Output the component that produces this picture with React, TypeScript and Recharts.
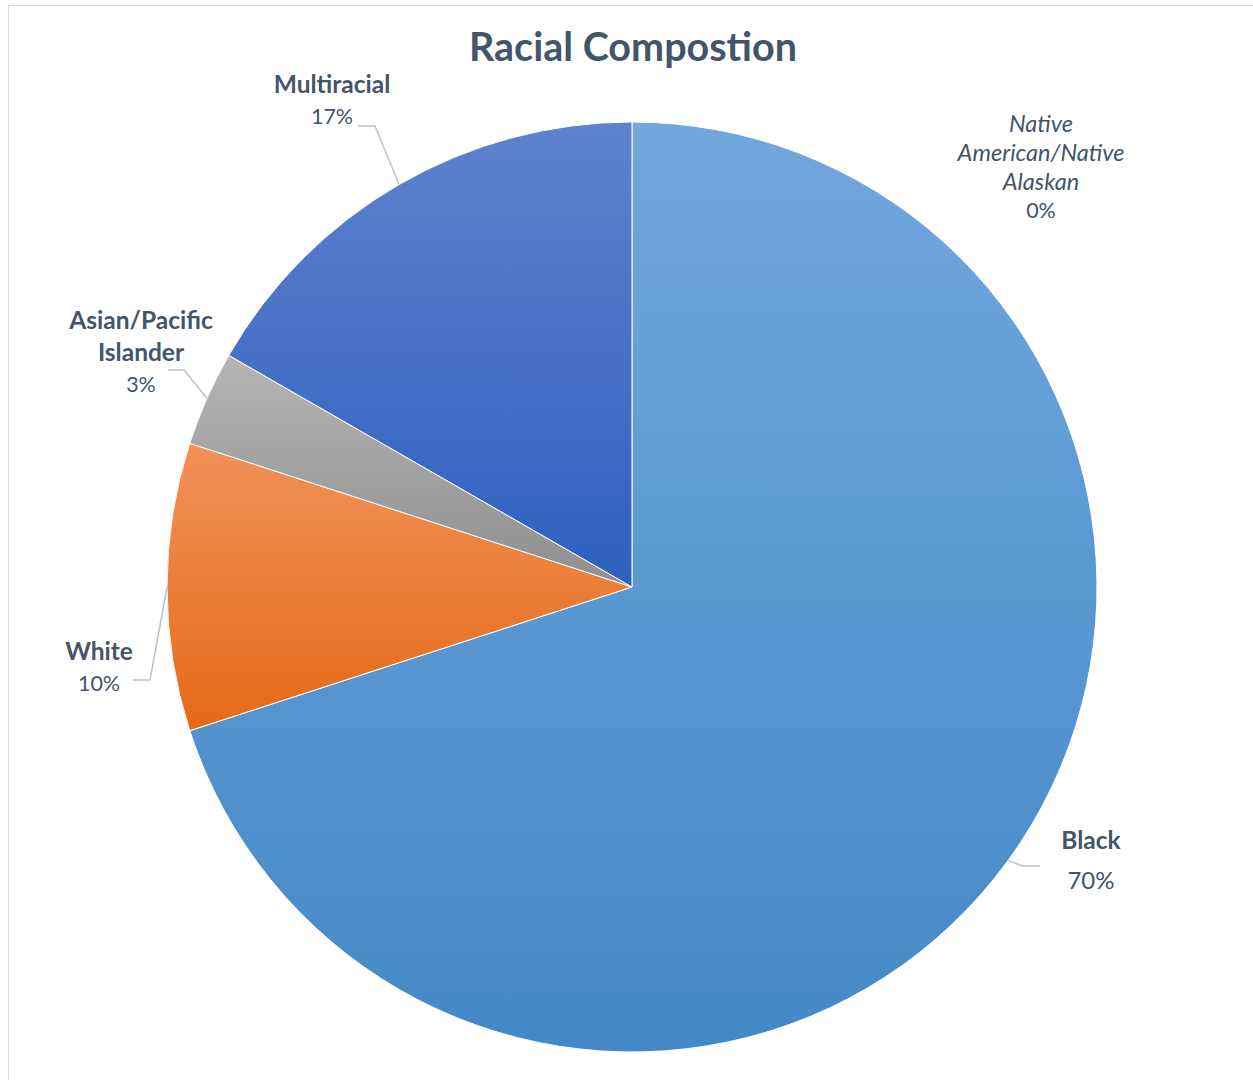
import React from 'react';
import { PieChart, Pie, Cell } from 'recharts';

const categories = ['Native American/Native Alaskan', 'Black', 'White', 'Asian/Pacific Islander', 'Multiracial'];
const shares = [0, 70, 10, 3.3, 16.7];

// label text lines, as Excel wrapped them
const labelLines: Record<string, string[]> = {
  'Native American/Native Alaskan': ['Native', 'American/Native', 'Alaskan'],
  Black: ['Black'],
  White: ['White'],
  'Asian/Pacific Islander': ['Asian/Pacific', 'Islander'],
  Multiracial: ['Multiracial'],
};

const gradients = [
  ['#78aade', '#5f9bd8'],
  ['#72a7dd', '#4389c7'],
  ['#f2915a', '#e46a17'],
  ['#b5b5b5', '#8e8e8e'],
  ['#5e82cd', '#2f60bf'],
];

// label placement relative to pie centre (tx,ty = text centre x / first baseline; elbow, end of leader)
const layout: Record<string, { tx: number; ty: number; elbow?: [number, number]; end?: [number, number]; italic?: boolean }> = {
  'Native American/Native Alaskan': { tx: 409, ty: -455, italic: true },
  Black: { tx: 459, ty: 262, elbow: [390, 279], end: [408, 279] },
  White: { tx: -533, ty: 73, elbow: [-482, 93], end: [-499, 93] },
  'Asian/Pacific Islander': { tx: -491, ty: -258, elbow: [-448, -217], end: [-464, -217] },
  Multiracial: { tx: -300, ty: -494, elbow: [-257, -461], end: [-274, -461] },
};

const data = categories.map((name, i) => ({ name, value: shares[i] }));

const TEXT = '#44546a';
const FONT = 'Lato, "Open Sans", sans-serif';
const RAD = Math.PI / 180;

const renderLabel = (props: any) => {
  const { cx, cy, midAngle, outerRadius, percent, name } = props;
  const cfg = layout[name];
  if (!cfg) return null;
  const lines = labelLines[name];
  const pct = `${Math.round(percent * 100)}%`;
  const ax = cx + outerRadius * Math.cos(-midAngle * RAD);
  const ay = cy + outerRadius * Math.sin(-midAngle * RAD);
  const lh = cfg.italic ? 29 : 32;
  return (
    <g>
      {cfg.elbow && cfg.end && (
        <polyline
          points={`${ax},${ay} ${cx + cfg.elbow[0]},${cy + cfg.elbow[1]} ${cx + cfg.end[0]},${cy + cfg.end[1]}`}
          fill="none"
          stroke="#b8c3d1"
          strokeWidth={1.5}
        />
      )}
      <text x={cx + cfg.tx} y={cy + cfg.ty} textAnchor="middle" fill={TEXT} fontFamily={FONT}>
        {lines.map((l, i) => (
          <tspan
            key={i}
            x={cx + cfg.tx}
            dy={i === 0 ? 0 : lh}
            fontSize={cfg.italic ? 23.5 : 24.5}
            fontWeight={cfg.italic ? 400 : 700}
            fontStyle={cfg.italic ? 'italic' : 'normal'}
          >
            {l}
          </tspan>
        ))}
        <tspan
          x={cx + cfg.tx}
          dy={name === 'Black' ? 40 : lh - 1}
          fontSize={name === 'Black' ? 24 : 21.5}
          fontWeight={400}
        >
          {pct}
        </tspan>
      </text>
    </g>
  );
};

export default function App() {
  return (
    <div style={{ position: 'absolute', left: 0, top: 0, width: 1253, height: 1080, background: '#fff', overflow: 'hidden' }}>
      <div
        style={{
          position: 'absolute',
          left: 8,
          top: 5,
          width: 1260,
          height: 1090,
          border: '1px solid #d9d9d9',
          boxSizing: 'border-box',
        }}
      />
      <div
        style={{
          position: 'absolute',
          left: 0,
          top: 22,
          width: 1266,
          textAlign: 'center',
          fontFamily: FONT,
          fontWeight: 700,
          fontSize: 39.5,
          color: TEXT,
        }}
      >
        Racial Compostion
      </div>
      <div style={{ position: 'absolute', left: 0, top: 0 }}>
        <PieChart width={1253} height={1080} margin={{ top: 0, right: 0, bottom: 0, left: 0 }}>
          <defs>
            {gradients.map((g, i) => (
              <linearGradient key={i} id={`grad${i}`} x1="0" y1="0" x2="0" y2="1">
                <stop offset="0%" stopColor={g[0]} />
                <stop offset="100%" stopColor={g[1]} />
              </linearGradient>
            ))}
          </defs>
          <Pie
            data={data}
            dataKey="value"
            nameKey="name"
            cx={632}
            cy={587}
            outerRadius={465}
            startAngle={90}
            endAngle={-270}
            stroke="#ffffff"
            strokeWidth={1}
            label={renderLabel}
            labelLine={false}
            isAnimationActive={false}
          >
            {data.map((d, i) => (
              <Cell key={d.name} fill={`url(#grad${i})`} />
            ))}
          </Pie>
        </PieChart>
      </div>
    </div>
  );
}
